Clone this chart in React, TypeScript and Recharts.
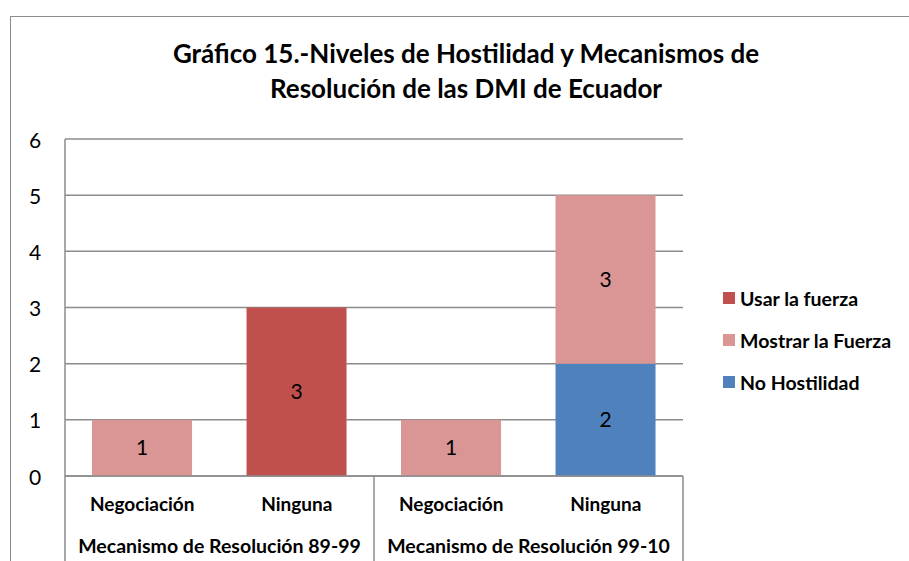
import { Bar, BarChart, CartesianGrid, LabelList, XAxis, YAxis } from "recharts";

const categories = ["Negociación", "Ninguna", "Negociación", "Ninguna"];
const groupLabels = ["Mecanismo de Resolución 89-99", "Mecanismo de Resolución 99-10"];
const noHostilidad = [null, null, null, 2];
const mostrarFuerza = [1, null, 1, 3];
const usarFuerza = [null, 3, null, null];
const yTicks = [0, 1, 2, 3, 4, 5, 6];

const series = [
  { key: "noHostilidad", name: "No Hostilidad", color: "#4F81BD" },
  { key: "mostrarFuerza", name: "Mostrar la Fuerza", color: "#D99694" },
  { key: "usarFuerza", name: "Usar la fuerza", color: "#C0504D" }
];

const data = categories.map((cat, i) => ({
  cat,
  noHostilidad: noHostilidad[i],
  mostrarFuerza: mostrarFuerza[i],
  usarFuerza: usarFuerza[i]
}));

const FONT = "Lato, 'Open Sans', sans-serif";
const W = 909;
const H = 561;
const M = { top: 139, right: 226, left: 10, bottom: 5 };
const Y_W = 55;
const X_H = 80;
const PLOT_LEFT = M.left + Y_W;
const PLOT_RIGHT = W - M.right;
const PLOT_BOTTOM = H - M.bottom - X_H;
const BAND = (PLOT_RIGHT - PLOT_LEFT) / categories.length;
const LINE = "#8c8c8c";

const CategoryTick = ({ x, index, payload }: any) => {
  const left = x - BAND / 2;
  return (
    <g>
      <text x={x} y={503} textAnchor="middle" dominantBaseline="central" fontFamily={FONT} fontWeight="bold" fontSize={19} fill="#000">
        {payload.value}
      </text>
      {index % 2 === 0 && (
        <>
          <line x1={left} x2={left} y1={PLOT_BOTTOM} y2={H} stroke={LINE} strokeWidth={1.5} />
          <text x={left + BAND} y={545} textAnchor="middle" dominantBaseline="central" fontFamily={FONT} fontWeight="bold" fontSize={19.5} fill="#000">
            {groupLabels[index / 2]}
          </text>
        </>
      )}
      {index === categories.length - 1 && (
        <line x1={x + BAND / 2} x2={x + BAND / 2} y1={PLOT_BOTTOM} y2={H} stroke={LINE} strokeWidth={1.5} />
      )}
    </g>
  );
};

const ValueTick = ({ y, payload }: any) => (
  <text x={35} y={y} textAnchor="middle" dominantBaseline="central" fontFamily={FONT} fontSize={21} fill="#000">
    {payload.value}
  </text>
);

export default function App() {
  return (
    <div style={{ position: "absolute", left: 0, top: 0, width: W, height: H, background: "#fff", overflow: "hidden" }}>
      <div
        style={{
          position: "absolute",
          left: 10,
          top: 16,
          width: 1200,
          height: 1200,
          borderLeft: `1.5px solid ${LINE}`,
          borderTop: `1.5px solid ${LINE}`
        }}
      />
      <div
        style={{
          position: "absolute",
          left: 0,
          top: 36,
          width: 932,
          textAlign: "center",
          fontFamily: FONT,
          fontWeight: "bold",
          fontSize: 26,
          lineHeight: "35px",
          color: "#000"
        }}
      >
        Gráfico 15.-Niveles de Hostilidad y Mecanismos de
        <br />
        Resolución de las DMI de Ecuador
      </div>
      <BarChart width={W} height={H} data={data} margin={M} barCategoryGap="17.5%" style={{ position: "absolute", left: 0, top: 0 }}>
        <CartesianGrid vertical={false} stroke={LINE} strokeWidth={1.5} />
        <XAxis dataKey="cat" height={X_H} axisLine={{ stroke: LINE, strokeWidth: 1.5 }} tickLine={false} tick={<CategoryTick />} interval={0} />
        <YAxis width={Y_W} domain={[0, 6]} ticks={yTicks} axisLine={{ stroke: LINE, strokeWidth: 1.5 }} tickLine={false} tick={<ValueTick />} />
        {series.map((s) => (
          <Bar key={s.key} dataKey={s.key} name={s.name} stackId="a" fill={s.color} isAnimationActive={false}>
            <LabelList dataKey={s.key} position="center" fill="#000" fontSize={21} fontFamily={FONT} />
          </Bar>
        ))}
      </BarChart>
      <div style={{ position: "absolute", left: 723, top: 277, fontFamily: FONT, fontWeight: "bold", fontSize: 19.5, color: "#000" }}>
        {[...series].reverse().map((s) => (
          <div key={s.key} style={{ display: "flex", alignItems: "center", height: 42 }}>
            <span style={{ display: "inline-block", width: 12, height: 12, background: s.color, marginRight: 5 }} />
            {s.name}
          </div>
        ))}
      </div>
    </div>
  );
}
